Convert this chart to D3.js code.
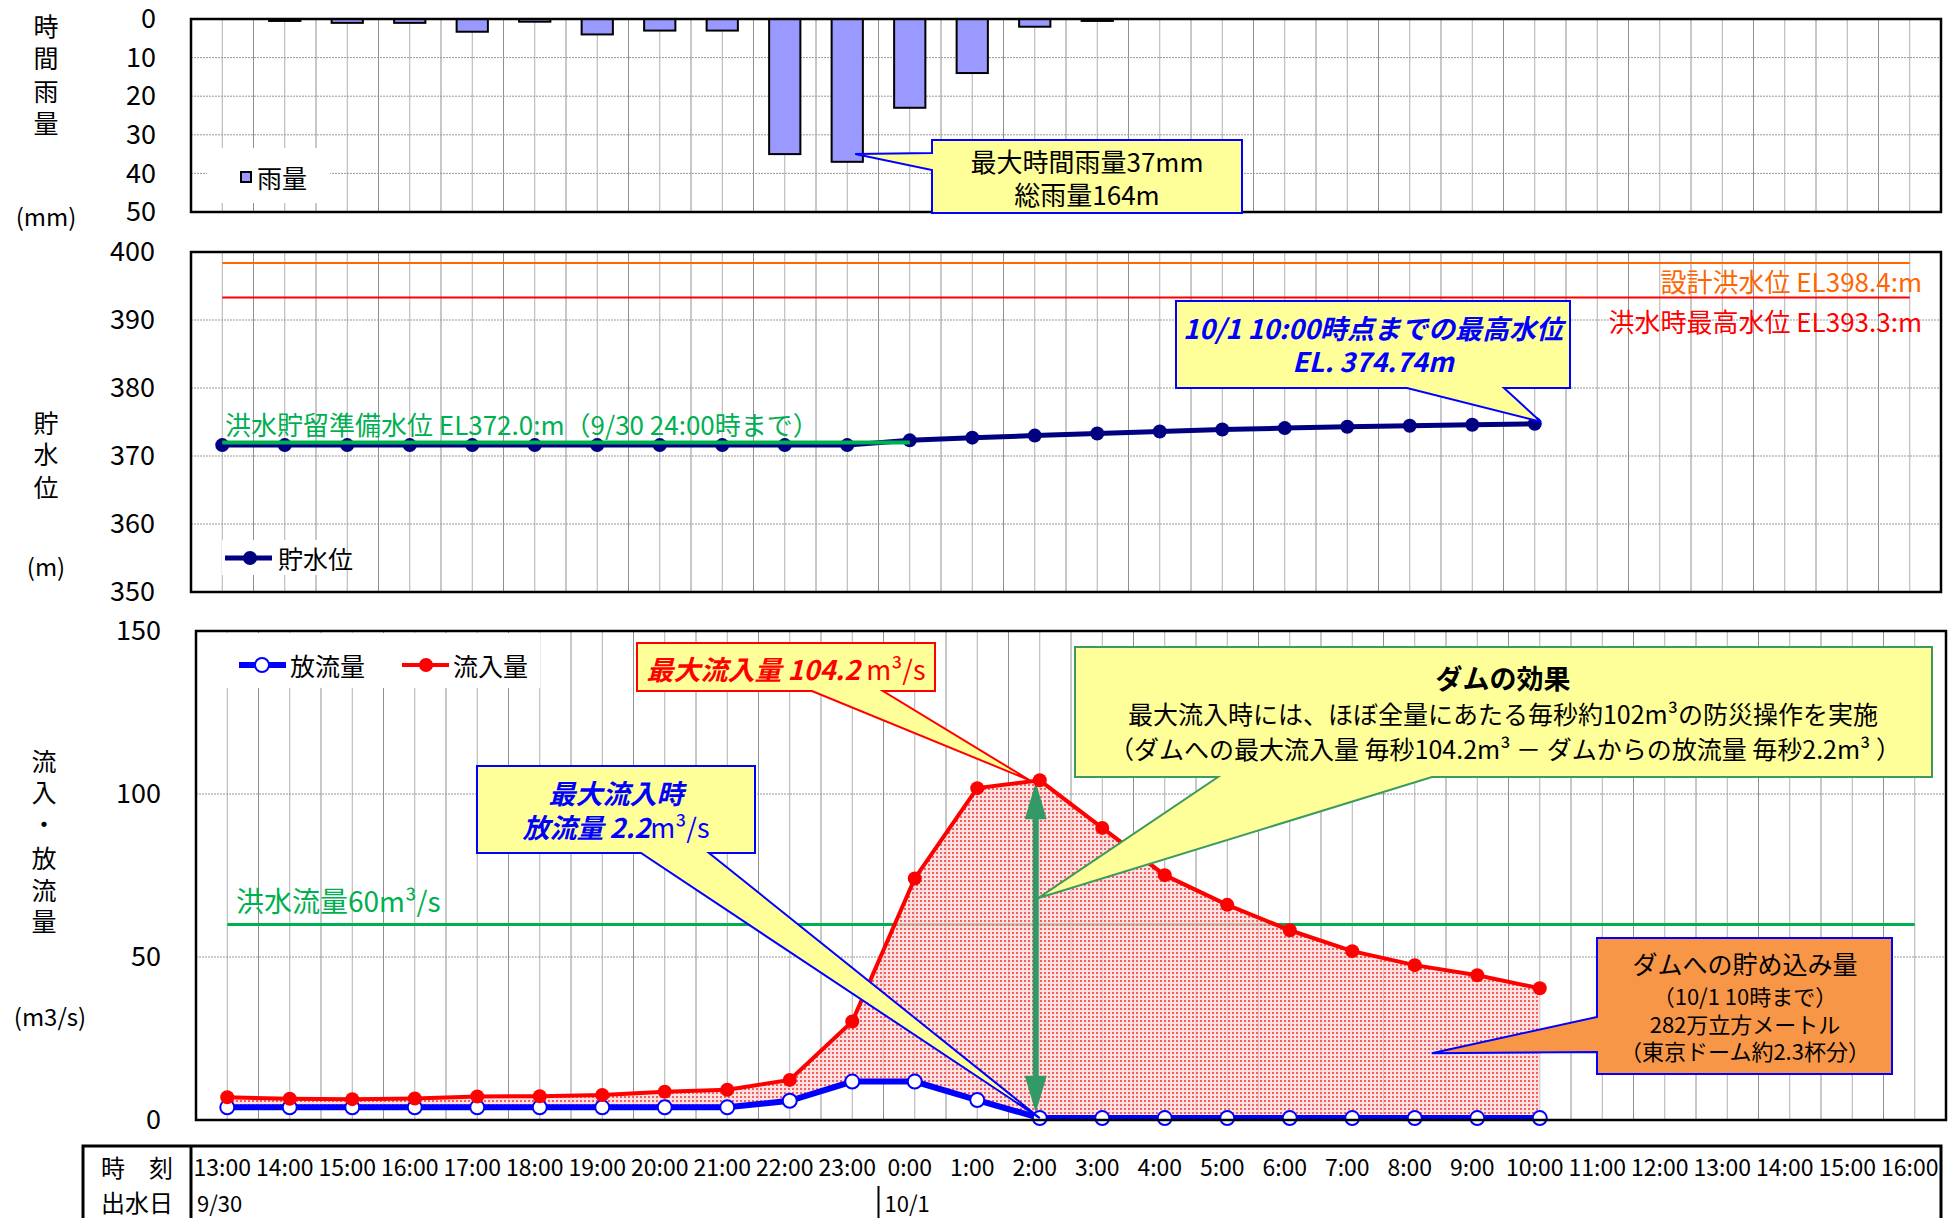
<!DOCTYPE html>
<html>
<head>
<meta charset="utf-8">
<script src="https://cdn.jsdelivr.net/npm/d3@7/dist/d3.min.js"></script>
<style>
body { margin: 0; background: #fff; }
svg { display: block; }
</style>
</head>
<body>
<svg id="chart" width="1957" height="1218"></svg>
<script>
// hourly categories, 9/30 13:00 -> 10/1 16:00
var times = ["13:00","14:00","15:00","16:00","17:00","18:00","19:00","20:00","21:00","22:00","23:00",
             "0:00","1:00","2:00","3:00","4:00","5:00","6:00","7:00","8:00","9:00","10:00",
             "11:00","12:00","13:00 ","14:00 ","15:00 ","16:00 "];
var dateLabels = ["9/30", "10/1"];
var dateStarts = ["13:00", "0:00"];

// hourly rainfall (mm), from 13:00
var rain = [0, 0.5, 1, 1, 3.3, 0.7, 4, 3, 3, 35, 37, 23, 14, 2, 0.5];
// reservoir level (m), 13:00 - 10:00
var level = [371.6, 371.6, 371.6, 371.6, 371.6, 371.6, 371.6, 371.6, 371.6, 371.6, 371.6,
             372.3, 372.7, 373.0, 373.3, 373.6, 373.9, 374.1, 374.3, 374.45, 374.6, 374.74];
// inflow / outflow (m3/s), 13:00 - 10:00
var inflow = [7.0, 6.5, 6.4, 6.6, 7.2, 7.3, 7.7, 8.7, 9.3, 12.3, 30.2,
              74.1, 101.8, 104.2, 89.6, 75.1, 66.0, 58.2, 51.8, 47.5, 44.4, 40.4];
var outflow = [3.9, 3.9, 3.9, 3.9, 3.9, 3.9, 3.9, 3.9, 3.9, 5.9, 11.8,
               11.8, 6.1, 0.6, 0.6, 0.6, 0.6, 0.6, 0.6, 0.6, 0.6, 0.6];

var rainTicks = [0, 10, 20, 30, 40, 50];
var levelTicks = [350, 360, 370, 380, 390, 400];
var flowTicks = [0, 50, 100, 150];

var designLevel = 398.4, floodMaxLevel = 393.3, prepLevel = 372.0, floodFlow = 60;

var FONT = "'Liberation Sans Narrow','Arial Narrow','Noto Sans CJK JP',sans-serif";
var JP = "'Noto Sans CJK JP',sans-serif";

var svg = d3.select('#chart');

var x = d3.scaleBand().domain(times).range([191, 1941]);
var xb = d3.scaleBand().domain(times).range([196, 1946]);
var bw = x.bandwidth();
function cx(t) { return x(t) + bw / 2; }
function cxb(t) { return xb(t) + bw / 2; }

var yRain = d3.scaleLinear().domain([0, 50]).range([19, 212]);
var yLevel = d3.scaleLinear().domain([350, 400]).range([592, 252]);
var yFlow = d3.scaleLinear().domain([0, 150]).range([1120, 631]);

// pattern for stored volume
var defs = svg.append('defs');
var pat = defs.append('pattern').attr('id', 'dots').attr('patternUnits', 'userSpaceOnUse')
    .attr('width', 4).attr('height', 4);
pat.append('rect').attr('width', 4).attr('height', 4).attr('fill', '#ffd6d6').attr('opacity', 0.75);
pat.append('rect').attr('width', 2).attr('height', 2).attr('fill', '#f06060');

function grid(g, xs, ys, ticks, left, right) {
    times.forEach(function(t) {
        [xs(t), xs(t) + bw / 2].forEach(function(px, i) {
            if (px - left < 2) return;
            g.append('line').attr('x1', px).attr('x2', px)
             .attr('y1', ys.range()[0]).attr('y2', ys.range()[1])
             .attr('stroke', i ? '#b0b0b0' : '#909090').attr('stroke-width', 1);
        });
    });
    g.selectAll('.h').data(ticks).enter().append('line')
     .attr('x1', left).attr('x2', right)
     .attr('y1', function(d) { return ys(d); }).attr('y2', function(d) { return ys(d); })
     .attr('stroke', '#999').attr('stroke-width', 1).attr('stroke-dasharray', '2,1');
}

function yAxis(ys, ticks, left, pad) {
    var g = svg.append('g').attr('transform', 'translate(' + left + ',0)')
        .call(d3.axisLeft(ys).tickValues(ticks).tickSize(0).tickPadding(pad));
    g.select('.domain').remove();
    g.selectAll('text').attr('font-family', FONT).attr('font-size', 27).attr('fill', '#000');
}

function vtitle(chars, xpos, ys) {
    chars.forEach(function(c, i) {
        svg.append('text').attr('x', xpos).attr('y', ys[i]).attr('text-anchor', 'middle')
           .attr('dominant-baseline', 'central').attr('font-family', JP).attr('font-size', 25)
           .text(c);
    });
}

function label(g, px, py, str, opt) {
    opt = opt || {};
    return g.append('text').attr('x', px).attr('y', py)
        .attr('text-anchor', opt.anchor || 'middle').attr('dominant-baseline', 'central')
        .attr('font-family', FONT).attr('font-size', opt.size || 25)
        .attr('font-weight', opt.bold ? 'bold' : 'normal')
        .attr('font-style', opt.italic ? 'italic' : 'normal')
        .attr('fill', opt.color || '#000').text(str);
}

// callout box with a pointer coming out of one side
function callout(b, side, a1, a2, tip, fill, stroke) {
    var p;
    if (side == 'bottom') {
        p = [[b[0], b[1]], [b[2], b[1]], [b[2], b[3]], [a2, b[3]], tip, [a1, b[3]], [b[0], b[3]]];
    } else {
        p = [[b[0], b[1]], [b[2], b[1]], [b[2], b[3]], [b[0], b[3]], [b[0], a2], tip, [b[0], a1]];
    }
    svg.append('path').attr('d', 'M' + p.join('L') + 'Z')
       .attr('fill', fill).attr('stroke', stroke).attr('stroke-width', 2);
}

// ---------------- rain panel ----------------
var g1 = svg.append('g');
grid(g1, x, yRain, rainTicks, 191, 1941);
g1.append('rect').attr('x', 207).attr('y', 148).attr('width', 123).attr('height', 55).attr('fill', '#fff');
g1.append('rect').attr('x', 241).attr('y', 172).attr('width', 10).attr('height', 10)
  .attr('fill', '#9999ff').attr('stroke', '#000').attr('stroke-width', 2);
label(g1, 257, 177, '雨量', { anchor: 'start', size: 25 });

g1.selectAll('.bar').data(rain).enter().append('rect')
  .attr('x', function(d, i) { return cx(times[i]) - bw / 4; })
  .attr('y', yRain(0))
  .attr('width', bw / 2)
  .attr('height', function(d) { return yRain(d) - yRain(0); })
  .attr('fill', '#9999ff').attr('stroke', '#000').attr('stroke-width', function(d) { return d > 0 ? 2 : 0; });

g1.append('rect').attr('x', 191).attr('y', 19).attr('width', 1750).attr('height', 193)
  .attr('fill', 'none').attr('stroke', '#000').attr('stroke-width', 2.5);
yAxis(yRain, rainTicks, 191, 35);
vtitle(['時', '間', '雨', '量'], 46, [25, 57, 90, 122]);
label(svg, 46, 215, '(mm)', { size: 24 });

callout([932, 140, 1242, 213], 'left', 153, 170, [cx('23:00') + 8, yRain(35)], '#ffff99', '#0000ff');
label(svg, 1087, 160, '最大時間雨量37mm', { size: 26 });
label(svg, 1087, 193, '総雨量164m', { size: 26 });

// ---------------- level panel ----------------
var g2 = svg.append('g');
grid(g2, x, yLevel, levelTicks, 191, 1941);
g2.append('rect').attr('x', 222).attr('y', 540).attr('width', 124).attr('height', 35).attr('fill', '#fff');

[[designLevel, '#ff6600'], [floodMaxLevel, '#ff0000']].forEach(function(d) {
    g2.append('line').attr('x1', cx(times[0])).attr('x2', cx(times[times.length - 1]))
      .attr('y1', yLevel(d[0])).attr('y2', yLevel(d[0])).attr('stroke', d[1]).attr('stroke-width', 2);
});
label(g2, 1922, 280, '設計洪水位 EL398.4:m', { anchor: 'end', size: 26, color: '#ff6600' });
label(g2, 1922, 320, '洪水時最高水位 EL393.3:m', { anchor: 'end', size: 26, color: '#ff0000' });

var lvl = level.map(function(v, i) { return { t: times[i], v: v }; });
g2.append('path').datum(lvl)
  .attr('d', d3.line().x(function(d) { return cx(d.t); }).y(function(d) { return yLevel(d.v); }))
  .attr('fill', 'none').attr('stroke', '#000080').attr('stroke-width', 5);
g2.selectAll('.ld').data(lvl).enter().append('circle')
  .attr('cx', function(d) { return cx(d.t); }).attr('cy', function(d) { return yLevel(d.v); })
  .attr('r', 7).attr('fill', '#000080');
g2.append('line').attr('x1', cx('13:00')).attr('x2', cx('0:00'))
  .attr('y1', yLevel(prepLevel)).attr('y2', yLevel(prepLevel)).attr('stroke', '#00b050').attr('stroke-width', 4);
label(g2, 225, 423, '洪水貯留準備水位 EL372.0:m（9/30 24:00時まで）', { anchor: 'start', size: 26, color: '#00b050' });

g2.append('line').attr('x1', 225).attr('x2', 272).attr('y1', 558).attr('y2', 558)
  .attr('stroke', '#000080').attr('stroke-width', 5);
g2.append('circle').attr('cx', 250).attr('cy', 558).attr('r', 7).attr('fill', '#000080');
label(g2, 278, 558, '貯水位', { anchor: 'start', size: 25 });

g2.append('rect').attr('x', 191).attr('y', 252).attr('width', 1750).attr('height', 340)
  .attr('fill', 'none').attr('stroke', '#000').attr('stroke-width', 2.5);
yAxis(yLevel, levelTicks, 191, 36);
vtitle(['貯', '水', '位'], 46, [422, 453, 486]);
label(svg, 46, 565, '(m)', { size: 24 });

callout([1176, 301, 1570, 388], 'bottom', 1407, 1504,
        [cx('10:00') + 6, yLevel(level[level.length - 1]) - 2], '#ffff99', '#0000ff');
label(svg, 1373, 327, '10/1 10:00時点までの最高水位', { size: 27, bold: true, italic: true, color: '#0000ff' });
label(svg, 1373, 360, 'EL. 374.74m', { size: 27, bold: true, italic: true, color: '#0000ff' });

// ---------------- flow panel ----------------
var g3 = svg.append('g');
grid(g3, xb, yFlow, flowTicks, 196, 1946);
g3.append('rect').attr('x', 198).attr('y', 633).attr('width', 342).attr('height', 55).attr('fill', '#fff');

g3.append('line').attr('x1', cxb(times[0])).attr('x2', cxb(times[times.length - 1]))
  .attr('y1', yFlow(floodFlow)).attr('y2', yFlow(floodFlow)).attr('stroke', '#00b050').attr('stroke-width', 3);
label(g3, 236, 900, '洪水流量60m³/s', { anchor: 'start', size: 28, color: '#00b050' });

var fl = inflow.map(function(v, i) { return { t: times[i], i: v, o: outflow[i] }; });
g3.append('path').datum(fl)
  .attr('d', d3.area().x(function(d) { return cxb(d.t); })
      .y0(function(d) { return yFlow(d.o); }).y1(function(d) { return yFlow(d.i); }))
  .attr('fill', 'url(#dots)');

// double arrow at peak
var ax = cxb('2:00') - 4, aTop = yFlow(104.2) + 2, aBot = yFlow(2.2);
g3.append('line').attr('x1', ax).attr('x2', ax).attr('y1', aTop + 30).attr('y2', aBot - 30)
  .attr('stroke', '#339966').attr('stroke-width', 6);
g3.append('path').attr('d', 'M' + ax + ',' + aTop + 'L' + (ax + 11) + ',' + (aTop + 37) + 'L' + (ax - 11) + ',' + (aTop + 37) + 'Z')
  .attr('fill', '#339966');
g3.append('path').attr('d', 'M' + ax + ',' + aBot + 'L' + (ax + 11) + ',' + (aBot - 37) + 'L' + (ax - 11) + ',' + (aBot - 37) + 'Z')
  .attr('fill', '#339966');

g3.append('path').datum(fl)
  .attr('d', d3.line().x(function(d) { return cxb(d.t); }).y(function(d) { return yFlow(d.o); }))
  .attr('fill', 'none').attr('stroke', '#0000ff').attr('stroke-width', 6);
g3.append('path').datum(fl)
  .attr('d', d3.line().x(function(d) { return cxb(d.t); }).y(function(d) { return yFlow(d.i); }))
  .attr('fill', 'none').attr('stroke', '#ff0000').attr('stroke-width', 4);
g3.selectAll('.od').data(fl).enter().append('circle')
  .attr('cx', function(d) { return cxb(d.t); }).attr('cy', function(d) { return yFlow(d.o); })
  .attr('r', 7).attr('fill', '#fff').attr('stroke', '#0000ff').attr('stroke-width', 2);
g3.selectAll('.id').data(fl).enter().append('circle')
  .attr('cx', function(d) { return cxb(d.t); }).attr('cy', function(d) { return yFlow(d.i); })
  .attr('r', 7).attr('fill', '#ff0000');

// legend
g3.append('line').attr('x1', 239).attr('x2', 286).attr('y1', 665).attr('y2', 665).attr('stroke', '#0000ff').attr('stroke-width', 6);
g3.append('circle').attr('cx', 262).attr('cy', 665).attr('r', 7).attr('fill', '#fff').attr('stroke', '#0000ff').attr('stroke-width', 2);
label(g3, 290, 665, '放流量', { anchor: 'start', size: 25 });
g3.append('line').attr('x1', 402).attr('x2', 449).attr('y1', 665).attr('y2', 665).attr('stroke', '#ff0000').attr('stroke-width', 4);
g3.append('circle').attr('cx', 426).attr('cy', 665).attr('r', 7).attr('fill', '#ff0000');
label(g3, 453, 665, '流入量', { anchor: 'start', size: 25 });

g3.append('rect').attr('x', 196).attr('y', 631).attr('width', 1750).attr('height', 489)
  .attr('fill', 'none').attr('stroke', '#000').attr('stroke-width', 2.5);
yAxis(yFlow, flowTicks, 196, 35);
vtitle(['流', '入', '・', '放', '流', '量'], 44, [760, 791, 823, 857, 889, 920]);
label(svg, 50, 1015, '(m3/s)', { size: 24 });

// callouts
callout([1075, 647, 1932, 777], 'bottom', 1218, 1432, [cxb('2:00') - 2, yFlow(68)], '#ffff99', '#3c9a5c');
label(svg, 1503, 677, 'ダムの効果', { size: 27, bold: true });
label(svg, 1503, 713, '最大流入時には、ほぼ全量にあたる毎秒約102m³の防災操作を実施', { size: 25 });
label(svg, 1505, 748, '（ダムへの最大流入量 毎秒104.2m³ － ダムからの放流量 毎秒2.2m³ ）', { size: 25 });

callout([637, 643, 935, 691], 'bottom', 812, 883, [cxb('2:00') - 10, yFlow(104.2)], '#ffff99', '#ff0000');
var t1 = label(svg, 786, 668, '', { size: 27, color: '#ff0000' });
t1.append('tspan').attr('font-weight', 'bold').attr('font-style', 'italic').text('最大流入量 104.2 ');
t1.append('tspan').text('m³/s');

callout([477, 766, 755, 853], 'bottom', 641, 709, [cxb('2:00'), yFlow(outflow[13])], '#ffff99', '#0000ff');
label(svg, 616, 792, '最大流入時', { size: 27, bold: true, italic: true, color: '#0000ff' });
var t2 = label(svg, 616, 826, '', { size: 27, color: '#0000ff' });
t2.append('tspan').attr('font-weight', 'bold').attr('font-style', 'italic').text('放流量 2.2');
t2.append('tspan').text('m³/s');

callout([1597, 938, 1892, 1074], 'left', 1017, 1052, [cxb('8:00') + 17, yFlow(20.5)], '#f79646', '#0000ff');
label(svg, 1745, 963, 'ダムへの貯め込み量', { size: 25 });
label(svg, 1745, 995, '（10/1 10時まで）', { size: 22 });
label(svg, 1745, 1023, '282万立方メートル', { size: 22 });
label(svg, 1745, 1050, '（東京ドーム約2.3杯分）', { size: 22 });

// ---------------- time table ----------------
var g4 = svg.append('g');
g4.append('path').attr('d', 'M83,1218V1146H1941V1218').attr('fill', 'none').attr('stroke', '#000').attr('stroke-width', 3);
g4.append('line').attr('x1', 191).attr('x2', 191).attr('y1', 1146).attr('y2', 1218).attr('stroke', '#000').attr('stroke-width', 3);
label(g4, 137, 1166, '時　刻', { size: 24 });
label(g4, 137, 1201, '出水日', { size: 24 });
g4.selectAll('.tl').data(times).enter().append('text')
  .attr('x', function(d) { return cx(d); }).attr('y', 1166)
  .attr('text-anchor', 'middle').attr('dominant-baseline', 'central')
  .attr('font-family', FONT).attr('font-size', 23)
  .text(function(d) { return d.trim(); });
dateLabels.forEach(function(d, i) {
    var px = x(dateStarts[i]);
    if (i > 0) {
        g4.append('line').attr('x1', px).attr('x2', px).attr('y1', 1186).attr('y2', 1218)
          .attr('stroke', '#000').attr('stroke-width', 2);
    }
    label(g4, px + 6, 1202, d, { anchor: 'start', size: 22 });
});
</script>
</body>
</html>
